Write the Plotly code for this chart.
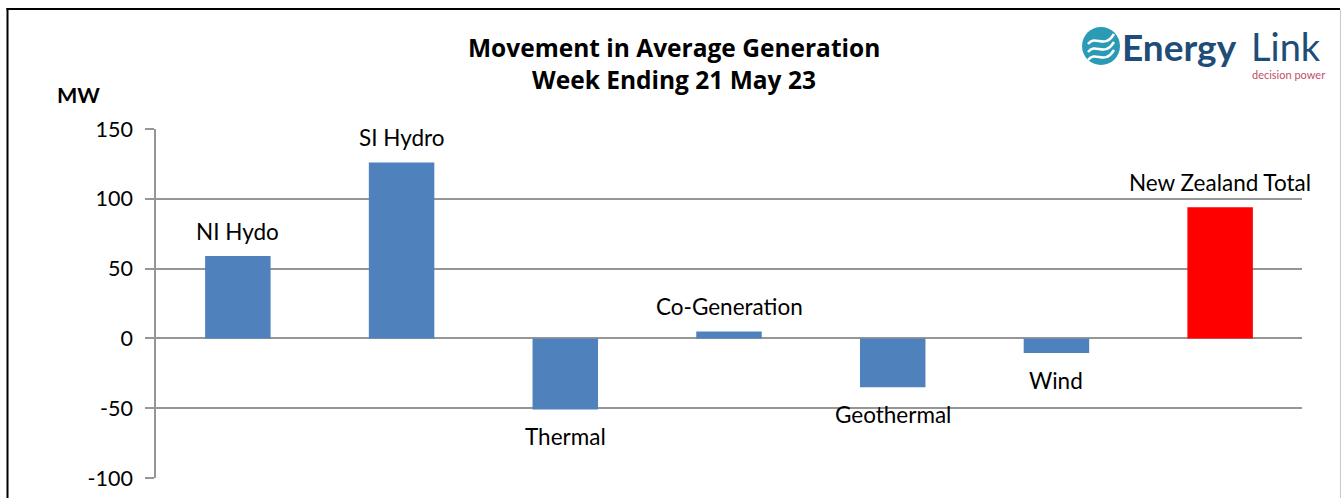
import plotly.graph_objects as go

# ---- data ----
categories = ["NI Hydo", "SI Hydro", "Thermal", "Co-Generation", "Geothermal", "Wind", "New Zealand Total"]
values = [59, 126, -51, 5, -35, -10.5, 94]
bar_colors = ["#4f81bd", "#4f81bd", "#4f81bd", "#4f81bd", "#4f81bd", "#4f81bd", "#ff0000"]
y_ticks = [-100, -50, 0, 50, 100, 150]
title_lines = ["Movement in Average Generation", "Week Ending 21 May 23"]

W, H = 1343, 498
L, R, T, B = 156, 41, 129, 20
PW, PH = W - L - R, H - T - B


def px(x):
    return (x - L) / PW


def py(y):
    return (H - B - y) / PH


FONT = "Lato, 'Open Sans', sans-serif"
TFONT = "'Open Sans', Lato, sans-serif"

fig = go.Figure()
fig.add_trace(go.Bar(
    x=categories, y=values, marker=dict(color=bar_colors, line=dict(width=0)),
    width=0.4, hoverinfo="x+y",
))

annotations = []
for c, v in zip(categories, values):
    annotations.append(dict(
        x=c, y=v, xref="x", yref="y", text=c, showarrow=False,
        yshift=25 if v >= 0 else -27, yanchor="middle", xanchor="center",
        font=dict(family=FONT, size=22.5, color="#000000"),
    ))

for line, yc in zip(title_lines, (47, 79)):
    annotations.append(dict(
        x=px(674), y=py(yc), xref="paper", yref="paper",
        text="<b>" + line + "</b>",
        showarrow=False, xanchor="center", yanchor="middle", align="center",
        font=dict(family=TFONT, size=24.5, color="#000000"),
    ))
annotations.append(dict(
    x=px(78), y=py(95), xref="paper", yref="paper", text="<b>MW</b>",
    showarrow=False, xanchor="center", yanchor="middle",
    font=dict(family=FONT, size=21.5, color="#000000"),
))
annotations.append(dict(
    x=px(1120), y=py(46), xref="paper", yref="paper", text="<b>Energy</b>",
    showarrow=False, xanchor="left", yanchor="middle",
    font=dict(family=FONT, size=37, color="#1d4d78"),
))
annotations.append(dict(
    x=px(1249), y=py(46), xref="paper", yref="paper", text="Link",
    showarrow=False, xanchor="left", yanchor="middle",
    font=dict(family=FONT, size=38, color="#1d4d78"),
))
annotations.append(dict(
    x=px(1327), y=py(74), xref="paper", yref="paper", text="decision power",
    showarrow=False, xanchor="right", yanchor="middle",
    font=dict(family=FONT, size=11, color="#c24d68"),
))

shapes = []
shapes.append(dict(type="circle", xref="paper", yref="paper",
                   x0=px(1082), x1=px(1120), y0=py(65), y1=py(27),
                   fillcolor="#2a9ab5", line=dict(width=0), layer="above"))
for dy in (-8, 0, 8):
    pts = [(1088, 52 + dy), (1096, 42 + dy), (1104, 58 + dy), (1114, 42 + dy)]
    path = "M {},{} C {},{} {},{} {},{}".format(
        px(pts[0][0]), py(pts[0][1]), px(pts[1][0]), py(pts[1][1]),
        px(pts[2][0]), py(pts[2][1]), px(pts[3][0]), py(pts[3][1]))
    shapes.append(dict(type="path", xref="paper", yref="paper", path=path,
                       line=dict(color="white", width=2.5), layer="above"))
shapes.append(dict(type="line", xref="paper", yref="paper",
                   x0=px(7.5), x1=px(7.5), y0=py(8), y1=py(500),
                   line=dict(color="#000000", width=2)))
shapes.append(dict(type="line", xref="paper", yref="paper",
                   x0=px(6.5), x1=px(1340), y0=py(9), y1=py(9),
                   line=dict(color="#000000", width=2)))
shapes.append(dict(type="line", xref="paper", yref="paper",
                   x0=px(1340.5), x1=px(1340.5), y0=py(10), y1=py(500),
                   line=dict(color="#c8c8c8", width=1)))

fig.update_layout(
    width=W, height=H, autosize=False,
    margin=dict(l=L, r=R, t=T, b=B, pad=0),
    paper_bgcolor="white", plot_bgcolor="white",
    showlegend=False, bargap=0.6,
    annotations=annotations, shapes=shapes,
    font=dict(family=FONT, color="#000000"),
    xaxis=dict(showticklabels=False, showgrid=False, zeroline=False, automargin=False,
               showline=False, ticks="", range=[-0.5, 6.5], fixedrange=True),
    yaxis=dict(range=[-100, 150], tickvals=y_ticks, ticktext=[str(t) for t in y_ticks],
               automargin=False,
               showgrid=True, gridcolor="#969696", gridwidth=1.5,
               zeroline=True, zerolinecolor="#969696", zerolinewidth=1.5,
               showline=True, linecolor="#969696", linewidth=1.5,
               ticks="outside", ticklen=9, tickcolor="#969696", tickwidth=1.5,
               tickfont=dict(family=FONT, size=21.5, color="#000000"),
               ticklabelstandoff=8, fixedrange=True),
)

fig.write_html("out.html", config={"displayModeBar": False},
               post_script="document.body.style.margin='0';document.body.style.overflow='hidden';")
